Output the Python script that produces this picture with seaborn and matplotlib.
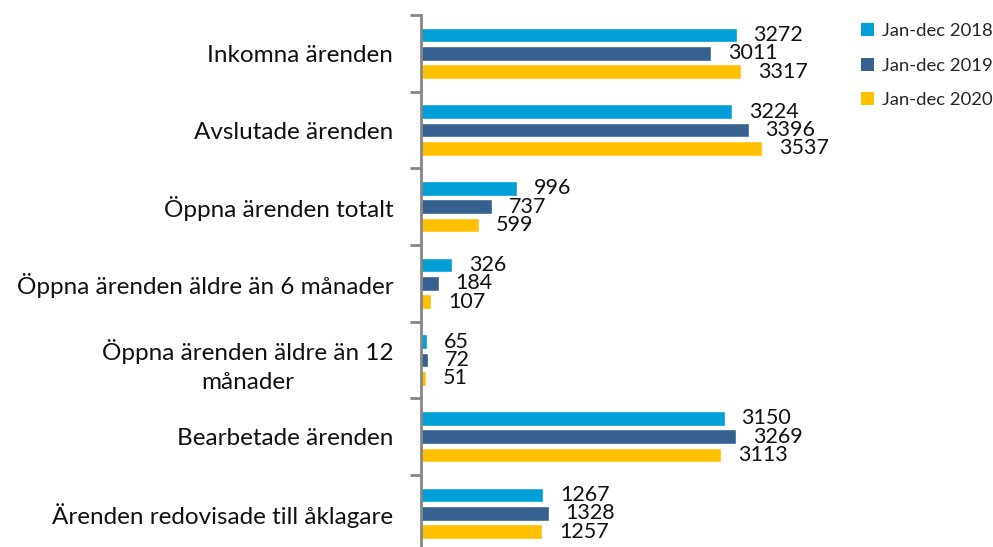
import pandas as pd
import matplotlib.pyplot as plt
import seaborn as sns
from matplotlib.patches import Patch
from matplotlib.ticker import FixedLocator

# Data
categories = [
    'Inkomna ärenden',
    'Avslutade ärenden',
    'Öppna ärenden totalt',
    'Öppna ärenden äldre än 6 månader',
    'Öppna ärenden äldre än 12\nmånader',
    'Bearbetade ärenden',
    'Ärenden redovisade till åklagare',
]
periods = ['Jan-dec 2018', 'Jan-dec 2019', 'Jan-dec 2020']
values_2018 = [3272, 3224, 996, 326, 65, 3150, 1267]
values_2019 = [3011, 3396, 737, 184, 72, 3269, 1328]
values_2020 = [3317, 3537, 599, 107, 51, 3113, 1257]
colors = ['#009FD7', '#35608F', '#FFC000']

df = pd.DataFrame({
    'Kategori': categories * 3,
    'Period': [p for p in periods for _ in categories],
    'Antal': values_2018 + values_2019 + values_2020,
})

sns.set_theme(style='white')
plt.rcParams['font.family'] = ['Lato', 'DejaVu Sans']

fig = plt.figure(figsize=(9.93, 5.47), dpi=100)
ax = fig.add_axes([421 / 993, -4.7 / 547, 410 / 993, 536.7 / 547])

sns.barplot(data=df, y='Kategori', x='Antal', hue='Period', order=categories,
            hue_order=periods, palette=colors, orient='h', width=0.72, gap=0.2,
            saturation=1, ax=ax, legend=False)

for container in ax.containers:
    ax.bar_label(container, padding=12, fontsize=15.5, color='#111111')

ax.set_xlim(0, 4250)
ax.set_ylim(len(categories) - 0.5, -0.5)
ax.set_xlabel('')
ax.set_ylabel('')
ax.set_xticks([])

# category labels without ticks, boundary ticks pointing left
ax.tick_params(axis='y', which='major', length=0, pad=20, labelsize=17.5,
               labelcolor='#111111')
for lbl in ax.get_yticklabels():
    lbl.set_multialignment('center')
    lbl.set_linespacing(1.45)
ax.yaxis.set_minor_locator(FixedLocator([i - 0.5 for i in range(len(categories))]))
ax.tick_params(axis='y', which='minor', left=True, length=8, width=2,
               color='#868686')

for side in ['top', 'right', 'bottom']:
    ax.spines[side].set_visible(False)
ax.spines['left'].set_color('#868686')
ax.spines['left'].set_linewidth(2)

handles = [Patch(facecolor=c, edgecolor='none') for c in colors]
fig.legend(handles, periods, loc='upper left', bbox_to_anchor=(852 / 993, 1 - 14 / 547),
           frameon=False, fontsize=13.3, handlelength=0.7, handleheight=0.7,
           handletextpad=0.4, labelspacing=1.0, borderpad=0)

plt.savefig('out.png', dpi=100)
plt.close()
